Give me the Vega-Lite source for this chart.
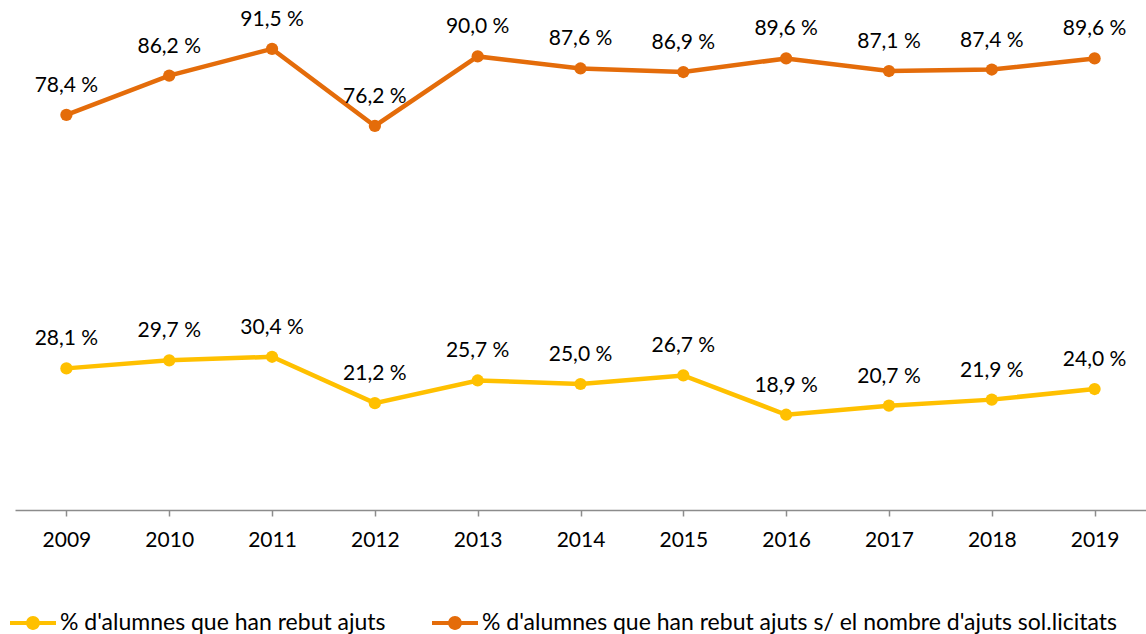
{
  "$schema": "https://vega.github.io/schema/vega-lite/v6.json",
  "autosize": {"type": "none"},
  "width": 1131,
  "height": 504,
  "padding": {"left": 15, "top": 6, "right": 0, "bottom": 124},
  "background": "white",
  "config": {
    "view": {"stroke": null},
    "font": "Lato"
  },
  "data": {
    "values": [
      {"year": "2009", "series": "% d'alumnes que han rebut ajuts", "value": 28.1},
      {"year": "2010", "series": "% d'alumnes que han rebut ajuts", "value": 29.7},
      {"year": "2011", "series": "% d'alumnes que han rebut ajuts", "value": 30.4},
      {"year": "2012", "series": "% d'alumnes que han rebut ajuts", "value": 21.2},
      {"year": "2013", "series": "% d'alumnes que han rebut ajuts", "value": 25.7},
      {"year": "2014", "series": "% d'alumnes que han rebut ajuts", "value": 25.0},
      {"year": "2015", "series": "% d'alumnes que han rebut ajuts", "value": 26.7},
      {"year": "2016", "series": "% d'alumnes que han rebut ajuts", "value": 18.9},
      {"year": "2017", "series": "% d'alumnes que han rebut ajuts", "value": 20.7},
      {"year": "2018", "series": "% d'alumnes que han rebut ajuts", "value": 21.9},
      {"year": "2019", "series": "% d'alumnes que han rebut ajuts", "value": 24.0},
      {"year": "2009", "series": "% d'alumnes que han rebut ajuts s/ el nombre d'ajuts sol.licitats", "value": 78.4},
      {"year": "2010", "series": "% d'alumnes que han rebut ajuts s/ el nombre d'ajuts sol.licitats", "value": 86.2},
      {"year": "2011", "series": "% d'alumnes que han rebut ajuts s/ el nombre d'ajuts sol.licitats", "value": 91.5},
      {"year": "2012", "series": "% d'alumnes que han rebut ajuts s/ el nombre d'ajuts sol.licitats", "value": 76.2},
      {"year": "2013", "series": "% d'alumnes que han rebut ajuts s/ el nombre d'ajuts sol.licitats", "value": 90.0},
      {"year": "2014", "series": "% d'alumnes que han rebut ajuts s/ el nombre d'ajuts sol.licitats", "value": 87.6},
      {"year": "2015", "series": "% d'alumnes que han rebut ajuts s/ el nombre d'ajuts sol.licitats", "value": 86.9},
      {"year": "2016", "series": "% d'alumnes que han rebut ajuts s/ el nombre d'ajuts sol.licitats", "value": 89.6},
      {"year": "2017", "series": "% d'alumnes que han rebut ajuts s/ el nombre d'ajuts sol.licitats", "value": 87.1},
      {"year": "2018", "series": "% d'alumnes que han rebut ajuts s/ el nombre d'ajuts sol.licitats", "value": 87.4},
      {"year": "2019", "series": "% d'alumnes que han rebut ajuts s/ el nombre d'ajuts sol.licitats", "value": 89.6}
    ]
  },
  "transform": [
    {"calculate": "replace(format(datum.value, '.1f'), '.', ',') + ' %'", "as": "label"}
  ],
  "encoding": {
    "x": {
      "field": "year", "type": "ordinal", "title": null,
      "scale": {"paddingInner": 0, "paddingOuter": 0},
      "axis": {
        "labelAngle": 0, "labelFontSize": 21, "labelColor": "#000000", "labelFont": "Lato",
        "domainColor": "#8c8c8c", "domainWidth": 1.5, "tickColor": "#8c8c8c", "tickWidth": 1.5,
        "tickSize": 6, "bandPosition": 0, "labelPadding": 13, "grid": false
      }
    },
    "y": {
      "field": "value", "type": "quantitative",
      "scale": {"domain": [0, 100]}, "axis": null
    }
  },
  "layer": [
    {
      "mark": {"type": "line", "strokeWidth": 4.5},
      "encoding": {
        "color": {
          "field": "series", "type": "nominal",
          "scale": {
            "domain": ["% d'alumnes que han rebut ajuts", "% d'alumnes que han rebut ajuts s/ el nombre d'ajuts sol.licitats"],
            "range": ["#FFC000", "#E46C0A"]
          },
          "legend": {
            "title": null, "orient": "none", "direction": "horizontal",
            "legendX": -5, "legendY": 594,
            "symbolType": "M-1,-0.09L1,-0.09L1,0.09L-1,0.09Z M-0.3,0A0.3,0.3 0 1,1 0.3,0A0.3,0.3 0 1,1 -0.3,0Z",
            "symbolSize": 2116, "symbolStrokeWidth": 0,
            "labelFontSize": 23, "labelColor": "#000000", "labelFont": "Lato",
            "labelOffset": 4, "columnPadding": 46, "labelLimit": 900
          }
        }
      }
    },
    {
      "mark": {"type": "point", "filled": true, "size": 150, "opacity": 1},
      "encoding": {
        "color": {"field": "series", "type": "nominal"}
      }
    },
    {
      "mark": {"type": "text", "dy": -29, "fontSize": 21, "color": "#000000", "font": "Lato"},
      "encoding": {
        "text": {"field": "label"}
      }
    }
  ]
}
